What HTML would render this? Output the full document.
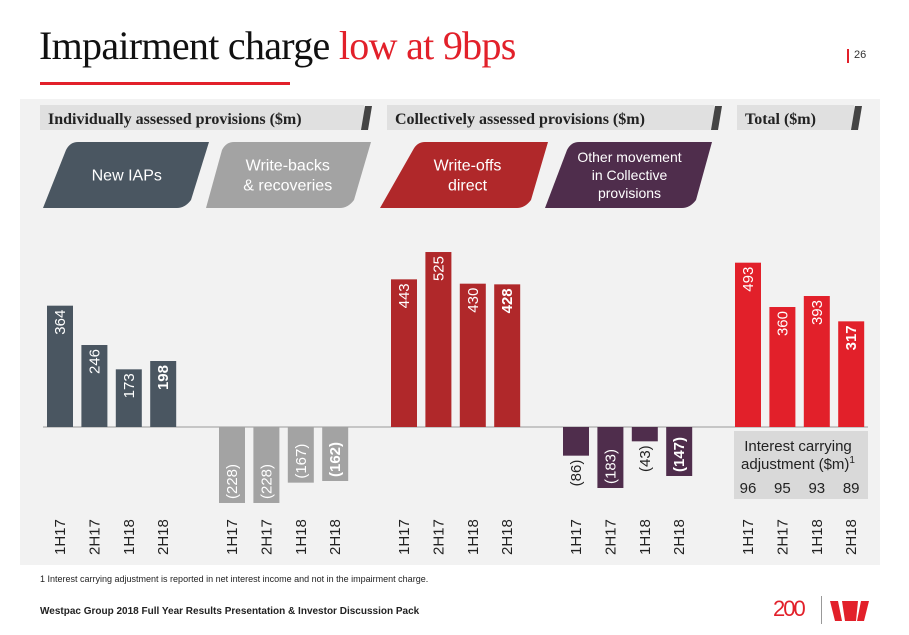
<!DOCTYPE html>
<html><head><meta charset="utf-8">
<style>
body{margin:0;width:909px;height:635px;background:#fff;overflow:hidden;font-family:"Liberation Sans",Arial,sans-serif;position:relative}
.abs{position:absolute}
</style></head>
<body>
<div class="abs" style="left:39px;top:22px;font-family:'Liberation Serif',serif;font-size:40px;color:#111;white-space:nowrap;letter-spacing:-0.7px">Impairment charge <span style="color:#e2202a">low at 9bps</span></div>
<div class="abs" style="left:40px;top:82px;width:250px;height:3px;background:#e2202a"></div>
<div class="abs" style="left:847px;top:49px;width:1.5px;height:14px;background:#e2202a"></div>
<div class="abs" style="left:854px;top:49px;font-size:11px;color:#333">26</div>
<div class="abs" style="left:20px;top:99px;width:860px;height:466px;background:#f2f2f2"></div>
<svg class="abs" style="left:0;top:0" width="909" height="635" id="chart"></svg>
<div class="abs" style="left:40px;top:574px;font-size:9px;color:#222">1 Interest carrying adjustment is reported in net interest income and not in the impairment charge.</div>
<div class="abs" style="left:40px;top:606px;font-size:10px;font-weight:bold;color:#222">Westpac Group 2018 Full Year Results Presentation &amp; Investor Discussion Pack</div>
<div class="abs" style="left:773px;top:596px;font-size:22px;color:#e2202a;letter-spacing:-2px">200</div>
<div class="abs" style="left:821px;top:596px;width:1px;height:28px;background:#999"></div>
<svg class="abs" style="left:830px;top:601px" width="40" height="22"><polygon points="0,0 8,0 12,20 5,20" fill="#e2202a"/><polygon points="12,0 28,0 26,20 15,20" fill="#e2202a"/><polygon points="31,0 39,0 34,20 27,20" fill="#e2202a"/></svg>
<script>
const categories=["1H17","2H17","1H18","2H18"];
const groupNames=["New IAPs","Write-backs & recoveries","Write-offs direct","Other movement in Collective provisions","Total"];
const newIAPs=[364,246,173,198];
const writeBacks=[-228,-228,-167,-162];
const writeOffs=[443,525,430,428];
const otherMovement=[-86,-183,-43,-147];
const total=[493,360,393,317];
const interestAdj=[96,95,93,89];
const series=[newIAPs,writeBacks,writeOffs,otherMovement,total];
const colors=["#4a5661","#a3a3a3","#b0282a","#4f2d4c","#e2202a"];
const svg=document.getElementById('chart');
const NS="http://www.w3.org/2000/svg";
const base=427, k=0.3333;
function y(v){return base-v*k;}
function x(g,i){return 47+g*172+i*34.4;}
const bw=26;
function mk(t,a){const e=document.createElementNS(NS,t);for(const n in a)e.setAttribute(n,a[n]);svg.appendChild(e);return e;}
const heads=[["Individually assessed provisions ($m)",40,372],["Collectively assessed provisions ($m)",387,722],["Total ($m)",737,862]];
heads.forEach((h,i)=>{
  const r=mk('rect',{x:h[1],y:105,width:h[2]-h[1]-8,height:25,fill:'#e0e0e0'});
  
  const s=mk('polygon',{points:`${h[2]-7},106 ${h[2]},106 ${h[2]-4},130 ${h[2]-11},130`,fill:'#444'});
  
  const t=mk('text',{x:h[1]+8,y:124,'font-family':'Liberation Serif, serif','font-size':16,'font-weight':'bold',fill:'#222'});
  t.textContent=h[0];
  
});
const shapes=[[70,209,43,185,["New IAPs"],"#4a5661"],[226,371,206,348,["Write-backs","& recoveries"],"#a3a3a3"],[417,548,380,525,["Write-offs","direct"],"#b0282a"],[571,712,545,690,["Other movement","in Collective","provisions"],"#4f2d4c"]];
shapes.forEach(s=>{
  const p=mk('path',{d:`M${s[0]+8},142 L${s[1]},142 L${s[3]+6},200 Q${s[3]},208 ${s[3]-8},208 L${s[2]},208 L${s[0]-4},150 Q${s[0]},142 ${s[0]+8},142 Z`,fill:s[5]});
  
  const cx=(s[0]+s[1]+s[2]+s[3])/4;
  const n=s[4].length, fs=n>2?14:16, lh=n>2?18:20;
  s[4].forEach((l,j)=>{
    const t=mk('text',{x:cx,y:175+(j-(n-1)/2)*lh+fs*0.35,'text-anchor':'middle','font-size':fs,fill:'#fff'});
    t.textContent=l;
    
  });
});
const ib=mk('rect',{x:734,y:431,width:134,height:68,fill:'#d9d9d9'});

[["Interest carrying",451],["adjustment ($m)",469]].forEach((l,j)=>{
  const t=mk('text',{x:798,y:l[1],'text-anchor':'middle','font-size':15,fill:'#222'});
  t.textContent=l[0];
  if(j==1){const sp=document.createElementNS(NS,'tspan');sp.setAttribute('font-size',10);sp.setAttribute('dy',-6);sp.textContent='1';t.appendChild(sp);}
  
});
interestAdj.forEach((v,i)=>{
  const t=mk('text',{x:x(4,i)+bw/2,y:493,'text-anchor':'middle','font-size':15,fill:'#222'});
  t.textContent=v;
  
});
const bl=mk('line',{x1:43,x2:868,y1:base,y2:base,stroke:'#999','stroke-width':1});

series.forEach((vals,g)=>{
  vals.forEach((v,i)=>{
    const xx=x(g,i);
    const top=Math.min(y(v),base), h=Math.abs(y(v)-base);
    const r=mk('rect',{x:xx,y:top,width:bw,height:h,fill:colors[g]});
    
    const lbl=v<0?'('+(-v)+')':String(v);
    const bold=i==3;
    const cx=xx+bw/2+5;
    let ty, anchor, fill='#fff';
    if(v>=0){ty=top+4;anchor='end';}
    else if(h<40){ty=top+h+4;anchor='end';fill='#222';}
    else{ty=top+h-4;anchor='start';}
    const t=mk('text',{x:0,y:0,transform:`translate(${cx},${ty}) rotate(-90)`,'text-anchor':anchor,'font-size':15,'font-weight':bold?'bold':'normal',fill:fill});
    t.textContent=lbl;
    
    const c=mk('text',{x:0,y:0,transform:`translate(${xx+bw/2+5},555) rotate(-90)`,'font-size':15,fill:'#222'});
    c.textContent=categories[i];
    
  });
});
</script>
</body></html>
